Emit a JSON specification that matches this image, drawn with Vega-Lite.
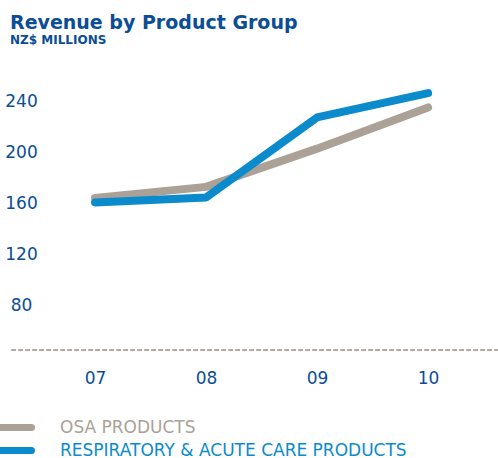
{
  "$schema": "https://vega.github.io/schema/vega-lite/v6.json",
  "width": 498,
  "height": 274,
  "autosize": {"type": "none"},
  "padding": {"left": 0, "top": 76, "right": 0, "bottom": 108},
  "background": "white",
  "title": {
    "text": "Revenue by Product Group",
    "subtitle": "NZ$ MILLIONS",
    "anchor": "start",
    "frame": "group",
    "dx": 10,
    "offset": 30,
    "font": "DejaVu Sans",
    "fontSize": 19,
    "fontWeight": "bold",
    "color": "#0b4d96",
    "subtitleFont": "DejaVu Sans",
    "subtitleFontSize": 12,
    "subtitleFontWeight": "bold",
    "subtitleColor": "#0b4d96",
    "subtitlePadding": 2
  },
  "config": {"view": {"stroke": null}},
  "data": {
    "values": [
      {"year": 7, "series": "OSA PRODUCTS", "revenue": 164.2},
      {"year": 8, "series": "OSA PRODUCTS", "revenue": 173.0},
      {"year": 9, "series": "OSA PRODUCTS", "revenue": 203.0},
      {"year": 10, "series": "OSA PRODUCTS", "revenue": 235.3},
      {"year": 7, "series": "RESPIRATORY & ACUTE CARE PRODUCTS", "revenue": 160.8},
      {"year": 8, "series": "RESPIRATORY & ACUTE CARE PRODUCTS", "revenue": 164.7},
      {"year": 9, "series": "RESPIRATORY & ACUTE CARE PRODUCTS", "revenue": 227.5},
      {"year": 10, "series": "RESPIRATORY & ACUTE CARE PRODUCTS", "revenue": 246.6}
    ]
  },
  "layer": [
    {
      "mark": {"type": "rule", "strokeDash": [4, 3], "stroke": "#b3aaa1", "strokeWidth": 1.5},
      "encoding": {
        "x": {"datum": 6.25, "type": "quantitative"},
        "x2": {"datum": 10.63},
        "y": {"datum": 45, "type": "quantitative"}
      }
    },
    {
      "mark": {"type": "line", "strokeWidth": 8, "strokeCap": "round", "strokeJoin": "round"},
      "encoding": {
        "x": {
          "field": "year",
          "type": "quantitative",
          "scale": {"domain": [6.144, 10.63], "nice": false, "zero": false},
          "axis": {
            "title": null,
            "values": [7, 8, 9, 10],
            "labelExpr": "datum.value < 10 ? '0' + datum.value : '' + datum.value",
            "domain": false,
            "ticks": false,
            "grid": false,
            "labelPadding": 20,
            "labelFont": "DejaVu Sans",
            "labelFontSize": 17,
            "labelColor": "#0b4d96"
          }
        },
        "y": {
          "field": "revenue",
          "type": "quantitative",
          "scale": {"domain": [45, 260], "nice": false, "zero": false},
          "axis": {
            "title": null,
            "values": [80, 120, 160, 200, 240],
            "domain": false,
            "ticks": false,
            "tickSize": 0,
            "grid": false,
            "labelAlign": "center",
            "labelPadding": -21,
            "labelFont": "DejaVu Sans",
            "labelFontSize": 17,
            "labelColor": "#0b4d96"
          }
        },
        "color": {
          "field": "series",
          "type": "nominal",
          "scale": {
            "domain": ["OSA PRODUCTS", "RESPIRATORY & ACUTE CARE PRODUCTS"],
            "range": ["#aba197", "#0b8bcb"]
          },
          "legend": {
            "title": null,
            "orient": "none",
            "legendX": 3,
            "legendY": 343,
            "direction": "vertical",
            "symbolType": "M-10,0H10",
            "symbolSize": 16,
            "symbolStrokeWidth": 7,
            "labelOffset": 40,
            "labelFont": "DejaVu Sans",
            "labelFontSize": 17,
            "labelLimit": 500,
            "rowPadding": -8,
            "encode": {
              "symbols": {"update": {"strokeCap": {"value": "round"}}},
              "labels": {"update": {"fill": {"signal": "datum.value == 'OSA PRODUCTS' ? '#aba197' : '#0b8bcb'"}}}
            }
          }
        }
      }
    }
  ]
}
